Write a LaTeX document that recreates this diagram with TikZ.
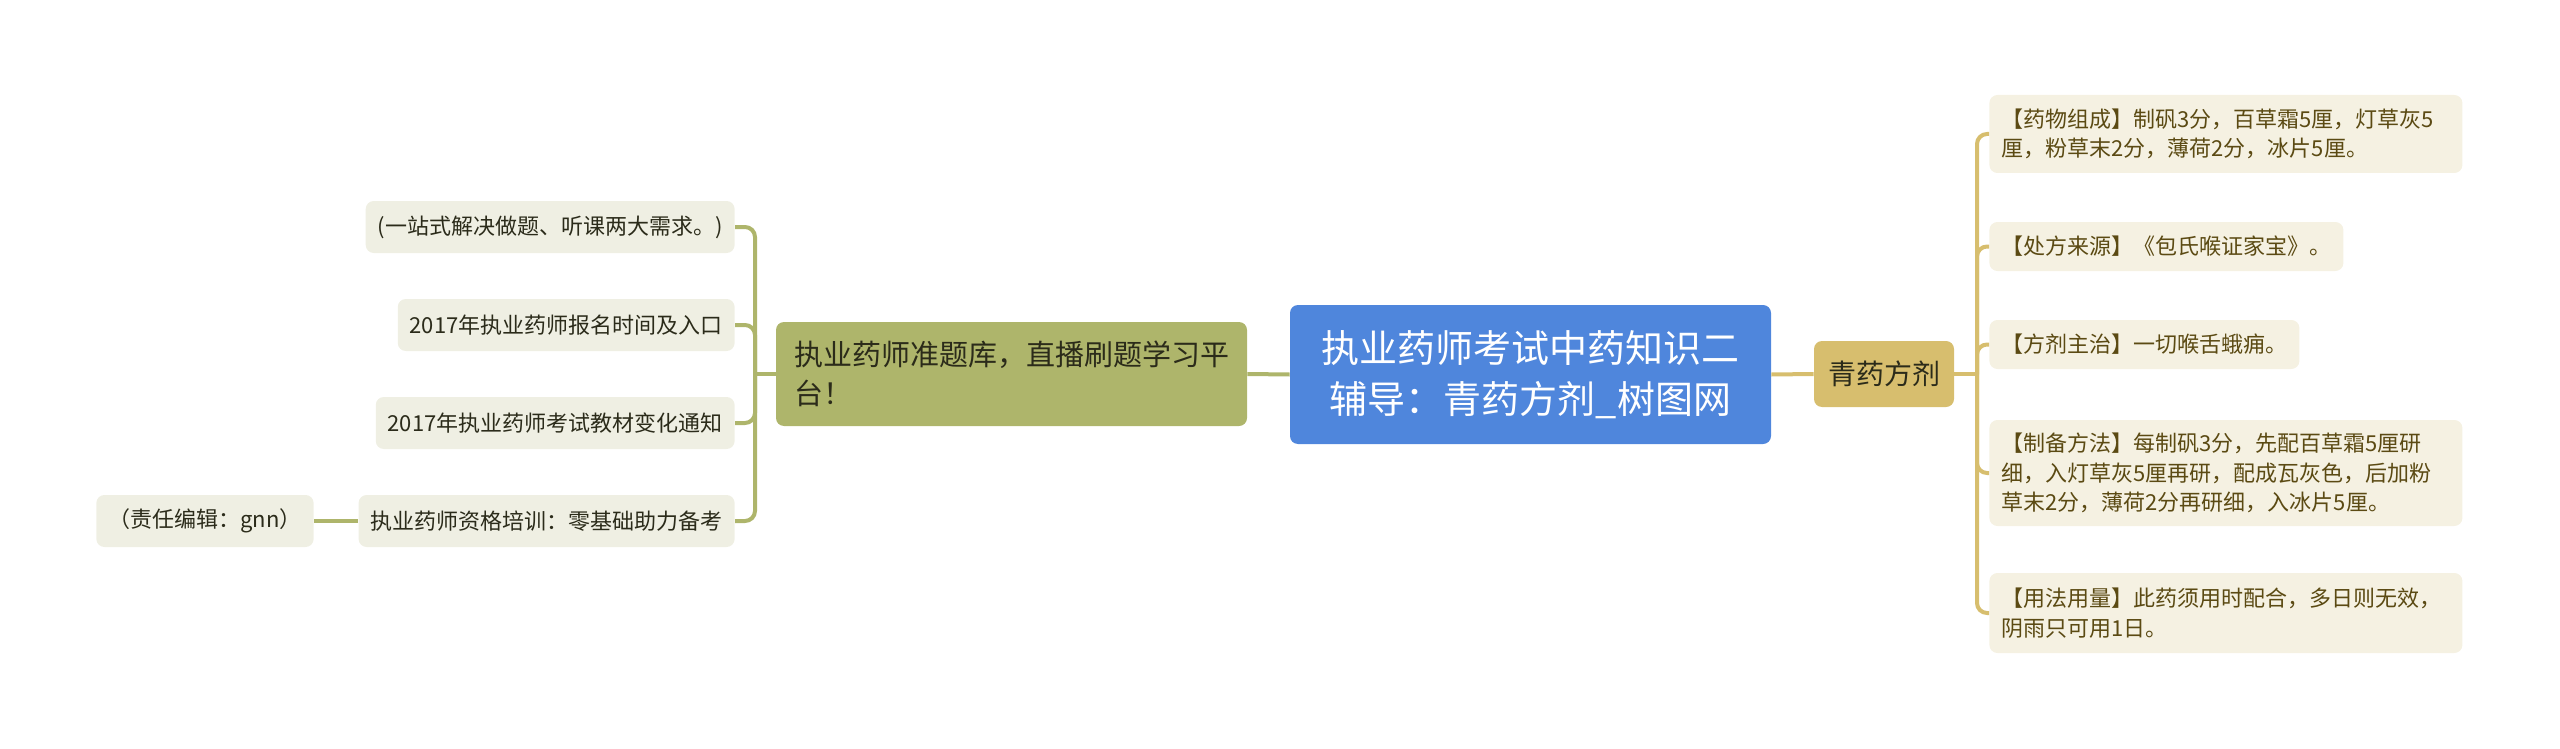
\documentclass[tikz,border=0pt]{standalone}
\usepackage{fontspec}
\setmainfont{Noto Sans CJK SC}
\definecolor{rootblue}{HTML}{4F86DC}
\definecolor{olive}{HTML}{AEB56B}
\definecolor{gold}{HTML}{D7BE6E}
\definecolor{leafgrey}{HTML}{EFEFE3}
\definecolor{leafcream}{HTML}{F5F1E2}
\definecolor{inkdark}{HTML}{2B2B1A}
\definecolor{inkbrown}{HTML}{5B4A13}

\begin{document}
\begin{tikzpicture}[x=0.5pt, y=-0.5pt,
    root/.style={rectangle, rounded corners=4pt, fill=rootblue, text=white,
        font=\fontsize{19}{25.3}\selectfont, align=center,
        minimum width=240.5pt, minimum height=69.5pt},
    mainleft/.style={rectangle, rounded corners=4pt, fill=olive, text=inkdark,
        font=\fontsize{14.5}{19.6}\selectfont, align=left,
        minimum width=235.5pt, minimum height=52pt},
    mainright/.style={rectangle, rounded corners=4pt, fill=gold, text=inkdark,
        font=\fontsize{14}{18}\selectfont,
        minimum width=70pt, minimum height=33pt},
    lleaf/.style={rectangle, rounded corners=4pt, fill=leafgrey, text=inkdark,
        font=\fontsize{11}{14.7}\selectfont, inner xsep=6pt,
        minimum height=26pt},
    rleaf/.style={rectangle, rounded corners=4pt, fill=leafcream, text=inkbrown,
        font=\fontsize{11}{14.7}\selectfont, inner xsep=6pt, align=left,
        anchor=west, minimum height=24.5pt},
    lline/.style={draw=olive, line width=2pt},
    rline/.style={draw=gold, line width=2pt}
]
    \useasboundingbox (0,0) rectangle (2560,749);

    % centre and main branches
    \node[root] (root) at (1530.5,374.5) {执业药师考试中药知识二\\辅导：青药方剂\_树图网};
    \node[mainleft] (prep) at (1011.5,374) {执业药师准题库，直播刷题学习平\\台！};
    \node[mainright] (qyfj) at (1884,374) {青药方剂};

    % left leaves
    \node[lleaf, anchor=east] (l1) at (735,227) {(一站式解决做题、听课两大需求。)};
    \node[lleaf, anchor=east] (l2) at (735,325) {2017年执业药师报名时间及入口};
    \node[lleaf, anchor=east] (l3) at (735,423) {2017年执业药师考试教材变化通知};
    \node[lleaf, anchor=east] (l4) at (735,521) {执业药师资格培训：零基础助力备考};
    \node[lleaf, anchor=east] (gnn) at (314,521) {（责任编辑：gnn）};

    % right leaves
    \node[rleaf, text width=224.5pt, minimum height=39pt] (r1) at (1989,134)
        {【药物组成】制矾3分，百草霜5厘，灯草灰5\\厘，粉草末2分，薄荷2分，冰片5厘。};
    \node[rleaf] (r2) at (1989,246.5) {【处方来源】《包氏喉证家宝》。};
    \node[rleaf] (r3) at (1989,344.5) {【方剂主治】一切喉舌蛾痈。};
    \node[rleaf, text width=224.5pt, minimum height=53pt] (r4) at (1989,473)
        {【制备方法】每制矾3分，先配百草霜5厘研\\细，入灯草灰5厘再研，配成瓦灰色，后加粉\\草末2分，薄荷2分再研细，入冰片5厘。};
    \node[rleaf, text width=224.5pt, minimum height=40pt] (r5) at (1989,613)
        {【用法用量】此药须用时配合，多日则无效，\\阴雨只可用1日。};

    \coordinate (lj) at (755,374);
    \coordinate (rj) at (1977,374);

    % connectors
    \draw[lline] (root.west) -- (prep.east);
    \draw[lline] (prep.west) -- (lj);
    \foreach \n in {l1,l2,l3,l4}
        \draw[lline, rounded corners=5pt] (lj) |- (\n.east);
    \draw[lline] (l4.west) -- (gnn.east);

    \draw[rline] (root.east) -- (qyfj.west);
    \draw[rline] (qyfj.east) -- (rj);
    \foreach \n in {r1,r2,r3,r4,r5}
        \draw[rline, rounded corners=5pt] (rj) |- (\n.west);
\end{tikzpicture}
\end{document}
